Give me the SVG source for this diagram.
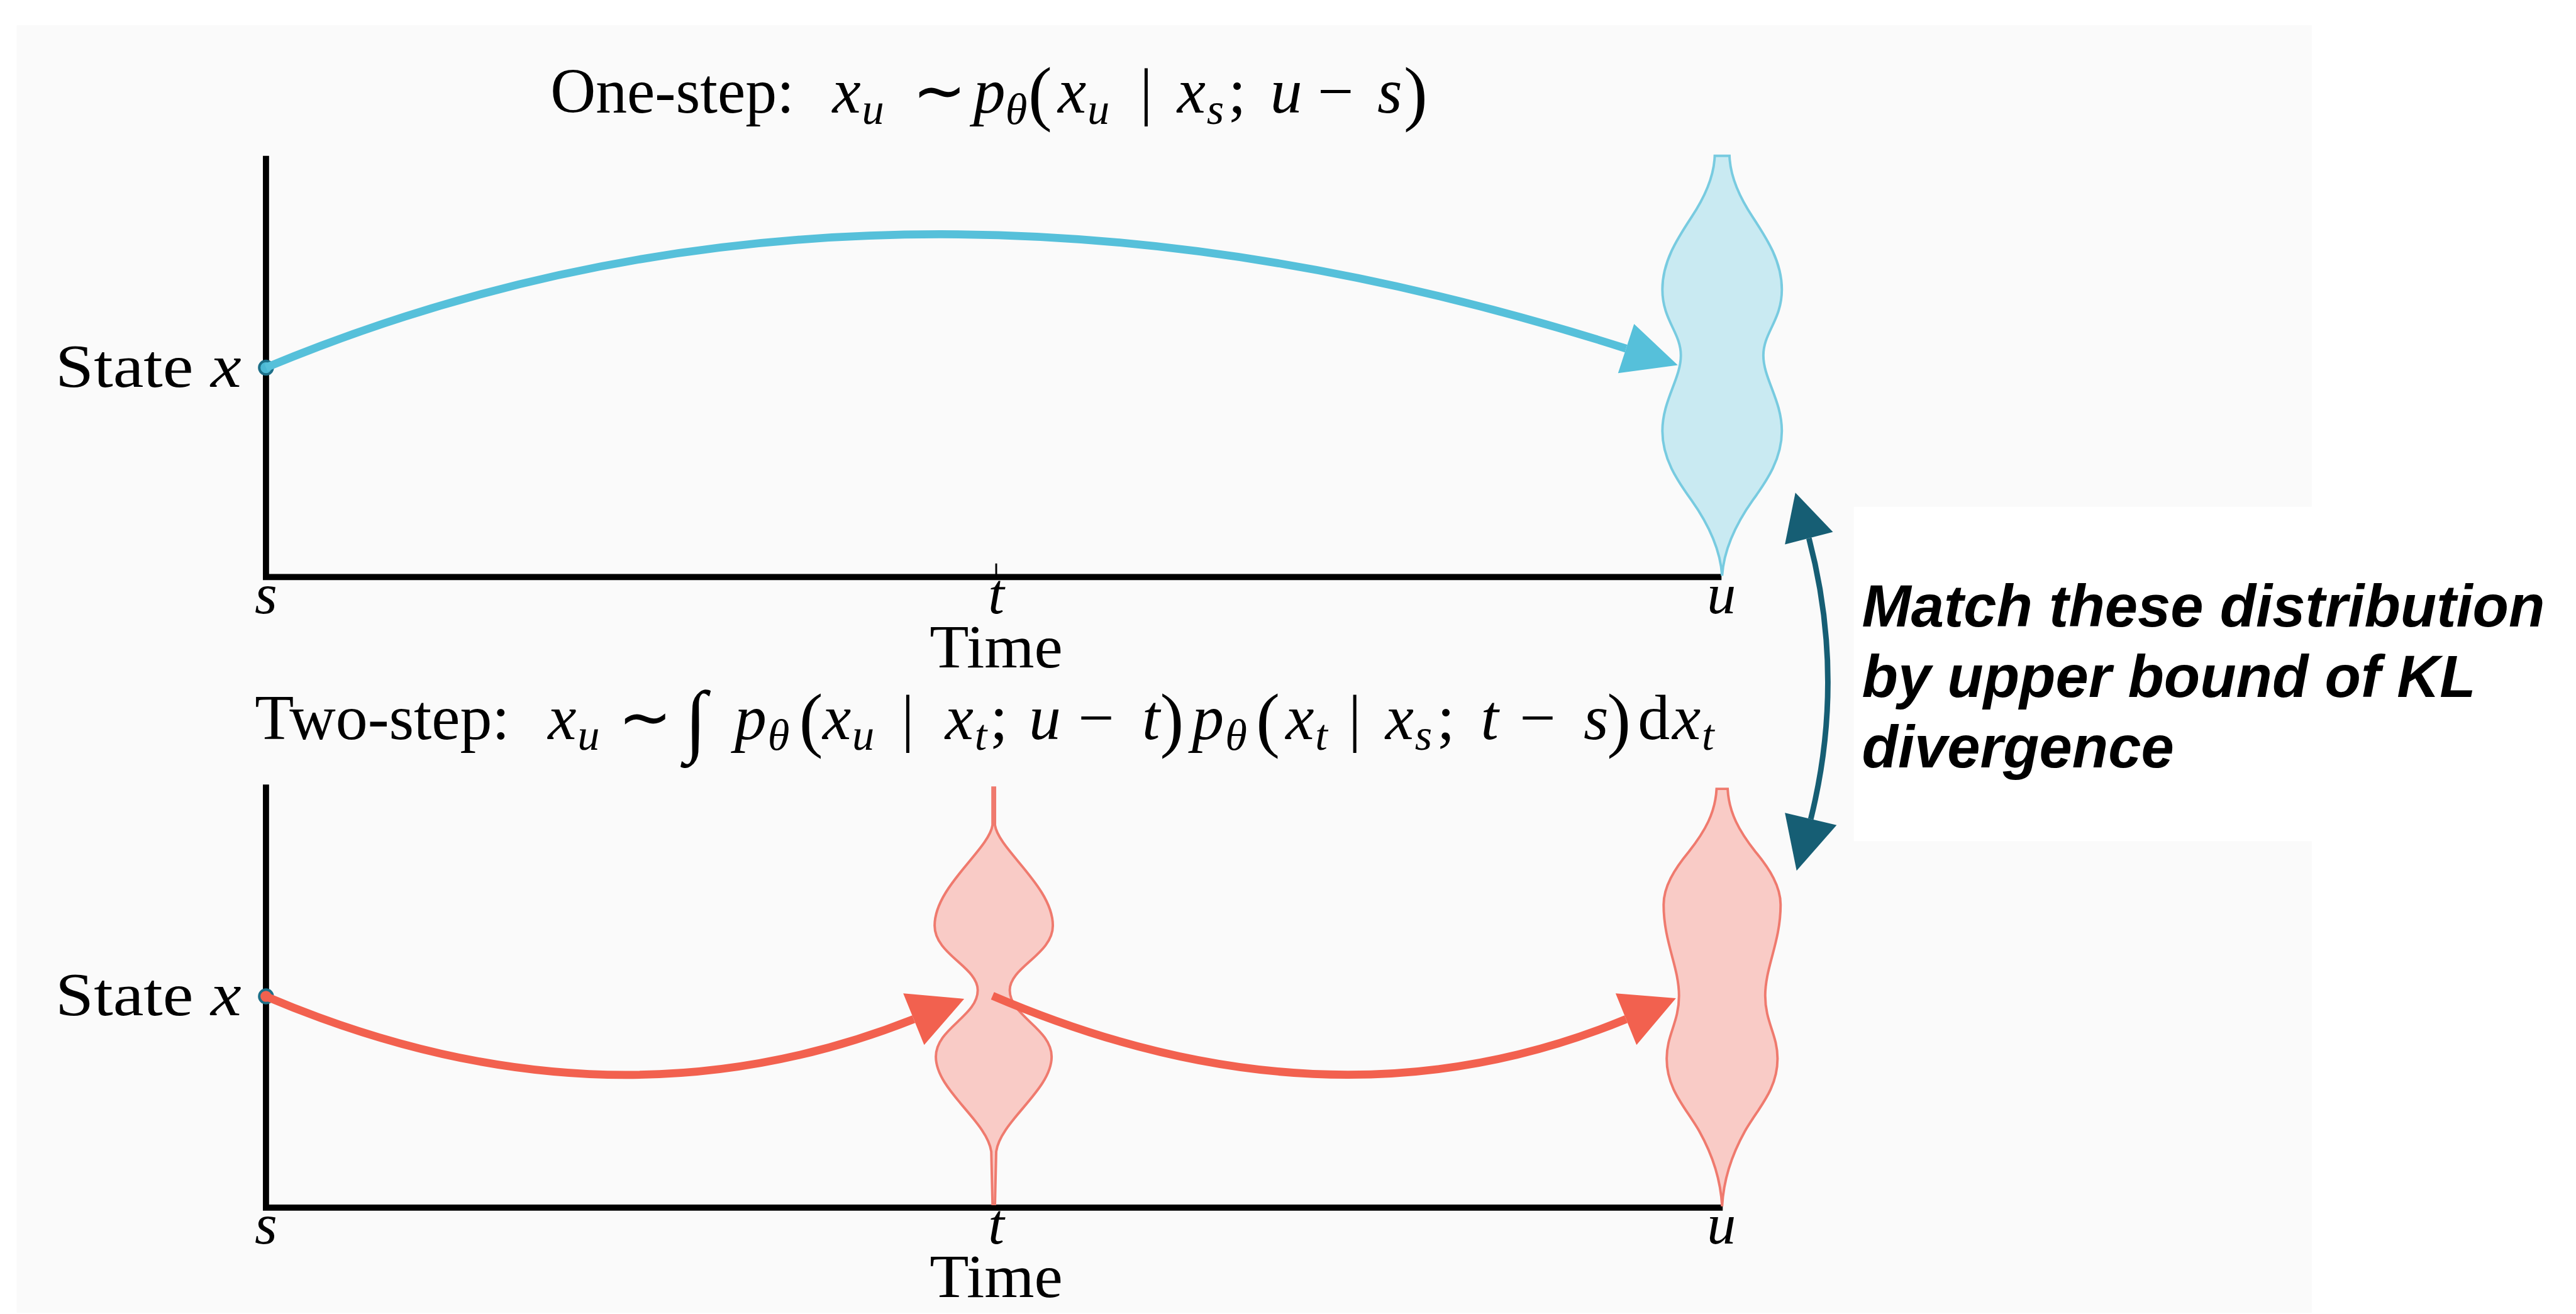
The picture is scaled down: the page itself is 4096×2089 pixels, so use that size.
<svg xmlns="http://www.w3.org/2000/svg" width="4096" height="2089" viewBox="0 0 4096 2089">
<style>
.bg{fill:#ffffff}
.panel{fill:#fafafa}
.axis{stroke:#000;stroke-width:10;fill:none;stroke-linejoin:miter}
.tick{stroke:#000;stroke-width:3}
.m{font-family:"Liberation Serif","Times New Roman",serif;fill:#000}
.i{font-style:italic}
.sub{font-size:72px;font-style:italic}
.par{font-size:116px}
.title{font-size:104px}
.lab{font-size:100px}
.tl{font-size:94px}
.blueline{stroke:#56c0da;stroke-width:13;fill:none}
.bluehead{fill:#56c0da}
.redline{stroke:#f2614f;stroke-width:13;fill:none}
.redhead{fill:#f2614f}
.tealline{stroke:#165e74;stroke-width:9;fill:none}
.tealhead{fill:#165e74}
.vblue{fill:#c9eaf2;stroke:#78cbe0;stroke-width:4}
.vred{fill:#f9cbc6;stroke:#ef7a6e;stroke-width:4}
.dotb{fill:#4bb8d4;stroke:#1d6f88;stroke-width:4}
.dotr{fill:#f2614f;stroke:#1d6f88;stroke-width:4}
.note{font-family:"Liberation Sans",Arial,sans-serif;font-weight:bold;font-style:italic;font-size:96px;fill:#000}
</style>
<g transform="scale(0.979)">
<g id="background">
<rect class="bg" x="0" y="0" width="4180" height="2132"/>
<rect class="panel" x="27" y="41" width="3728" height="2091"/>
<rect class="bg" x="3011" y="823" width="744" height="543"/>
</g>

<g id="top-plot">
<path class="axis" d="M432,253 L432,937 L2796,937"/>
<line class="tick" x1="1618" y1="915" x2="1618" y2="937"/>
<text class="m lab" x="90" y="628" textLength="302" lengthAdjust="spacingAndGlyphs">State <tspan class="i">x</tspan></text>
<text class="m tl i" x="432" y="996" text-anchor="middle">s</text>
<text class="m tl i" x="1618" y="996" text-anchor="middle">t</text>
<text class="m tl i" x="2796" y="996" text-anchor="middle">u</text>
<text class="m lab" x="1510" y="1084" textLength="216" lengthAdjust="spacingAndGlyphs">Time</text>
</g>

<g id="title-one-step">
<text class="m title" x="894" y="183" textLength="396" lengthAdjust="spacingAndGlyphs">One-step:</text>
<text class="m title" y="183"><tspan class="i" x="1352">x</tspan><tspan class="sub" x="1400" y="201">u</tspan><tspan x="1482" y="183">∼</tspan><tspan class="i" x="1581">p</tspan><tspan class="sub" x="1633" y="201">θ</tspan><tspan class="par" x="1670" y="190">(</tspan><tspan class="i" x="1718" y="183">x</tspan><tspan class="sub" x="1766" y="201">u</tspan><tspan x="1851" y="183">|</tspan><tspan class="i" x="1912">x</tspan><tspan class="sub" x="1960" y="201">s</tspan><tspan x="1995" y="183">;</tspan><tspan class="i" x="2063">u</tspan><tspan x="2140">−</tspan><tspan class="i" x="2237">s</tspan><tspan class="par" x="2280" y="190">)</tspan></text>
</g>

<g id="bottom-plot">
<path class="axis" d="M432,1274 L432,1961 L2798,1961"/>
<text class="m lab" x="90" y="1649" textLength="302" lengthAdjust="spacingAndGlyphs">State <tspan class="i">x</tspan></text>
<text class="m tl i" x="432" y="2019" text-anchor="middle">s</text>
<text class="m tl i" x="1618" y="2019" text-anchor="middle">t</text>
<text class="m tl i" x="2796" y="2019" text-anchor="middle">u</text>
<text class="m lab" x="1510" y="2106" textLength="216" lengthAdjust="spacingAndGlyphs">Time</text>
</g>

<g id="title-two-step">
<text class="m title" x="414" y="1200" textLength="414" lengthAdjust="spacingAndGlyphs">Two-step:</text>
<text class="m title" y="1200"><tspan class="i" x="890">x</tspan><tspan class="sub" x="938" y="1218">u</tspan><tspan x="1004" y="1200">∼</tspan><tspan x="1112" y="1212" font-size="130">∫</tspan><tspan class="i" x="1193" y="1200">p</tspan><tspan class="sub" x="1247" y="1218">θ</tspan><tspan class="par" x="1298" y="1207">(</tspan><tspan class="i" x="1336" y="1200">x</tspan><tspan class="sub" x="1384" y="1218">u</tspan><tspan x="1464" y="1200">|</tspan><tspan class="i" x="1535">x</tspan><tspan class="sub" x="1583" y="1218">t</tspan><tspan x="1608" y="1200">;</tspan><tspan class="i" x="1671">u</tspan><tspan x="1751">−</tspan><tspan class="i" x="1855">t</tspan><tspan class="par" x="1884" y="1207">)</tspan><tspan class="i" x="1936" y="1200">p</tspan><tspan class="sub" x="1990" y="1218">θ</tspan><tspan class="par" x="2040" y="1207">(</tspan><tspan class="i" x="2088" y="1200">x</tspan><tspan class="sub" x="2136" y="1218">t</tspan><tspan x="2190" y="1200">|</tspan><tspan class="i" x="2250">x</tspan><tspan class="sub" x="2298" y="1218">s</tspan><tspan x="2334" y="1200">;</tspan><tspan class="i" x="2405">t</tspan><tspan x="2468">−</tspan><tspan class="i" x="2572">s</tspan><tspan class="par" x="2610" y="1207">)</tspan><tspan x="2660" y="1200">d</tspan><tspan class="i" x="2716">x</tspan><tspan class="sub" x="2764" y="1218">t</tspan></text>
</g>

<g id="dist-one-step-u">
<path class="vblue" d="M2785,253 L2809,253 C2810,285 2825,320 2847,353 C2870,388 2894,425 2894,470 C2894,520 2864,540 2864,577 C2864,615 2894,650 2894,700 C2894,745 2870,780 2847,812 C2820,850 2800,890 2797,935 C2794,890 2774,850 2747,812 C2724,780 2700,745 2700,700 C2700,650 2730,615 2730,577 C2730,540 2700,520 2700,470 C2700,425 2724,388 2747,353 C2769,320 2784,285 2785,253 Z"/>
</g>

<g id="dist-two-step-t">
<path class="vred" d="M1612,1279 L1616,1279 L1616,1340 C1622,1380 1710,1440 1710,1503 C1710,1550 1640,1570 1640,1608 C1640,1650 1708,1670 1708,1716 C1708,1770 1625,1820 1618,1870 L1616,1955 L1612,1955 L1610,1870 C1603,1820 1520,1770 1520,1716 C1520,1670 1588,1650 1588,1608 C1588,1570 1518,1550 1518,1503 C1518,1440 1606,1380 1612,1340 Z"/>
</g>

<g id="dist-two-step-u">
<path class="vred" d="M2788,1281 L2806,1281 C2808,1320 2825,1350 2851,1383 C2875,1412 2892,1440 2892,1469 C2892,1530 2867,1570 2867,1617 C2867,1660 2887,1680 2887,1719 C2887,1770 2855,1800 2834,1837 C2810,1880 2799,1920 2797,1959 C2795,1920 2784,1880 2760,1837 C2739,1800 2707,1770 2707,1719 C2707,1680 2727,1660 2727,1617 C2727,1570 2702,1530 2702,1469 C2702,1440 2719,1412 2743,1383 C2769,1350 2786,1320 2788,1281 Z"/>
</g>

<g id="start-top">
<circle class="dotb" cx="432" cy="597" r="11"/>
</g>
<g id="start-bottom">
<circle class="dotr" cx="432" cy="1618" r="11"/>
</g>

<g id="connectors">
<path class="blueline" d="M432,597 Q1433,180 2641,566"/>
<polygon class="bluehead" points="2725,593 2628,606 2654,526"/>
<path class="redline" d="M432,1618 Q985,1853 1484,1655"/>
<polygon class="redhead" points="1566,1622 1467,1613 1501,1697"/>
<path class="redline" d="M1612,1617 Q2162,1853 2641,1655"/>
<polygon class="redhead" points="2722,1621 2624,1613 2658,1697"/>
<path class="tealline" d="M2938,874 Q2998,1102 2941,1330"/>
<polygon class="tealhead" points="2916,800 2977,864 2899,884"/>
<polygon class="tealhead" points="2918,1414 2983,1340 2899,1320"/>
</g>

<g id="note">
<text class="note" x="3024" y="1017">Match these distribution</text>
<text class="note" x="3024" y="1132">by upper bound of KL</text>
<text class="note" x="3024" y="1246">divergence</text>
</g>
</g>
</svg>
